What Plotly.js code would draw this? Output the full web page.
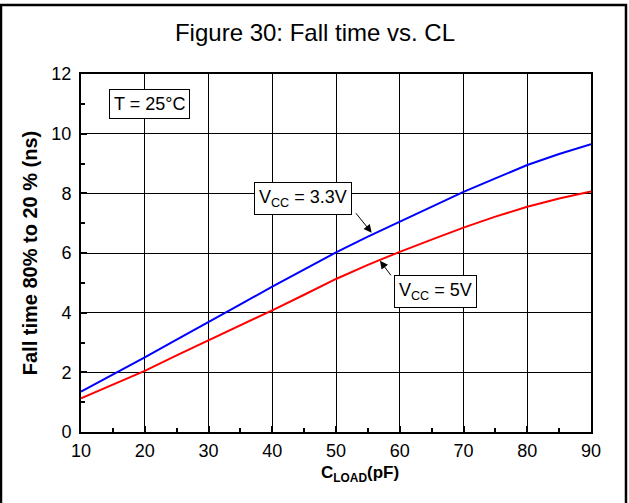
<!DOCTYPE html>
<html>
<head>
<meta charset="utf-8">
<script src="https://cdn.plot.ly/plotly-3.0.1.min.js"></script>
<style>
  html, body { margin: 0; padding: 0; background: #fff; }
  #chart { width: 629px; height: 503px; }
</style>
</head>
<body>
<div id="chart"></div>
<script>
// Load capacitance (pF)
const cload = [10, 15, 20, 25, 30, 35, 40, 45, 50, 55, 60, 65, 70, 75, 80, 85, 90];
// Fall time 80% to 20% (ns) at VCC = 3.3 V
const fall33 = [1.35, 1.92, 2.5, 3.1, 3.68, 4.28, 4.87, 5.45, 6.02, 6.55, 7.05, 7.57, 8.05, 8.5, 8.95, 9.32, 9.65];
// Fall time 80% to 20% (ns) at VCC = 5 V
const fall5 = [1.13, 1.6, 2.05, 2.57, 3.07, 3.58, 4.08, 4.6, 5.13, 5.6, 6.04, 6.45, 6.85, 7.22, 7.55, 7.83, 8.06];

const xTicks = [10, 20, 30, 40, 50, 60, 70, 80, 90];
const yTicks = [0, 2, 4, 6, 8, 10, 12];

const FONT = 'Liberation Sans, Arial, sans-serif';

const traces = [
  { x: cload, y: fall33, mode: 'lines', name: 'VCC = 3.3V',
    line: { color: '#0000ff', width: 2 } },
  { x: cload, y: fall5, mode: 'lines', name: 'VCC = 5V',
    line: { color: '#ff0000', width: 2 } }
];

const axisCommon = {
  showline: true, linecolor: '#000', linewidth: 2, mirror: true,
  showgrid: true, gridcolor: '#000', gridwidth: 1,
  ticks: 'inside', ticklen: 6, tickwidth: 2, tickcolor: '#000',
  zeroline: false,
  tickfont: { family: FONT, size: 18, color: '#000' }
};

const layout = {
  width: 629, height: 503,
  paper_bgcolor: '#fff', plot_bgcolor: '#fff',
  margin: { l: 81, r: 38, t: 74, b: 71 },
  showlegend: false,
  font: { family: FONT, color: '#000' },
  title: {
    text: 'Figure 30: Fall time vs. CL',
    font: { family: FONT, size: 24, color: '#000' },
    x: 0.5008, xref: 'container', xanchor: 'center',
    y: 0.936, yref: 'container', yanchor: 'middle'
  },
  xaxis: Object.assign({}, axisCommon, {
    range: [10, 90], tickvals: xTicks, ticktext: xTicks.map(String),
    minor: { dtick: 5, tick0: 10, ticks: 'inside', ticklen: 4, tickwidth: 2, tickcolor: '#000', showgrid: false },
    ticklabelstandoff: 1
  }),
  yaxis: Object.assign({}, axisCommon, {
    range: [0, 12], tickvals: yTicks, ticktext: yTicks.map(String),
    minor: { dtick: 1, tick0: 0, ticks: 'inside', ticklen: 4, tickwidth: 2, tickcolor: '#000', showgrid: false },
    ticklabelstandoff: 4,
    title: { text: '<b>Fall time 80% to 20 % (ns)</b>', font: { family: FONT, size: 20, color: '#000' }, standoff: 8 }
  }),
  shapes: [
    // frame around the whole figure
    { type: 'rect', xref: 'paper', yref: 'paper',
      x0: -0.1569, x1: 1.0686, y0: -0.25, y1: 1.1927,
      line: { color: '#000', width: 2.5 }, fillcolor: 'rgba(0,0,0,0)', layer: 'above' }
  ],
  annotations: [
    // x-axis title
    { x: 0.547, y: -0.118, xref: 'paper', yref: 'paper', xanchor: 'center', yanchor: 'middle',
      text: '<b>C<sub>LOAD</sub>(pF)</b>', showarrow: false,
      font: { family: FONT, size: 17, color: '#000' } },
    { x: 20.77, y: 11.0, xref: 'x', yref: 'y', text: 'T = 25°C', showarrow: false,
      font: { family: FONT, size: 18, color: '#000' },
      bgcolor: '#fff', bordercolor: '#000', borderwidth: 1, borderpad: 4 },
    // label boxes
    { x: 44.9, y: 7.83, xref: 'x', yref: 'y', text: 'V<sub>CC</sub> = 3.3V', showarrow: false,
      font: { family: FONT, size: 18, color: '#000' },
      bgcolor: '#fff', bordercolor: '#000', borderwidth: 1, borderpad: 4 },
    { x: 65.53, y: 4.70, xref: 'x', yref: 'y', text: 'V<sub>CC</sub> = 5V', showarrow: false,
      font: { family: FONT, size: 18, color: '#000' },
      bgcolor: '#fff', bordercolor: '#000', borderwidth: 1, borderpad: 4 },
    // pointer arrows from the label boxes to the curves
    { x: 55.6, y: 6.68, xref: 'x', yref: 'y', text: '', showarrow: true,
      ax: -17, ay: -21, arrowhead: 2, arrowsize: 1.6, arrowwidth: 1, arrowcolor: '#000' },
    { x: 56.9, y: 5.74, xref: 'x', yref: 'y', text: '', showarrow: true,
      ax: 12, ay: 16, arrowhead: 2, arrowsize: 1.6, arrowwidth: 1, arrowcolor: '#000' }
  ]
};

Plotly.newPlot('chart', traces, layout, { staticPlot: true, displayModeBar: false });
</script>
</body>
</html>
